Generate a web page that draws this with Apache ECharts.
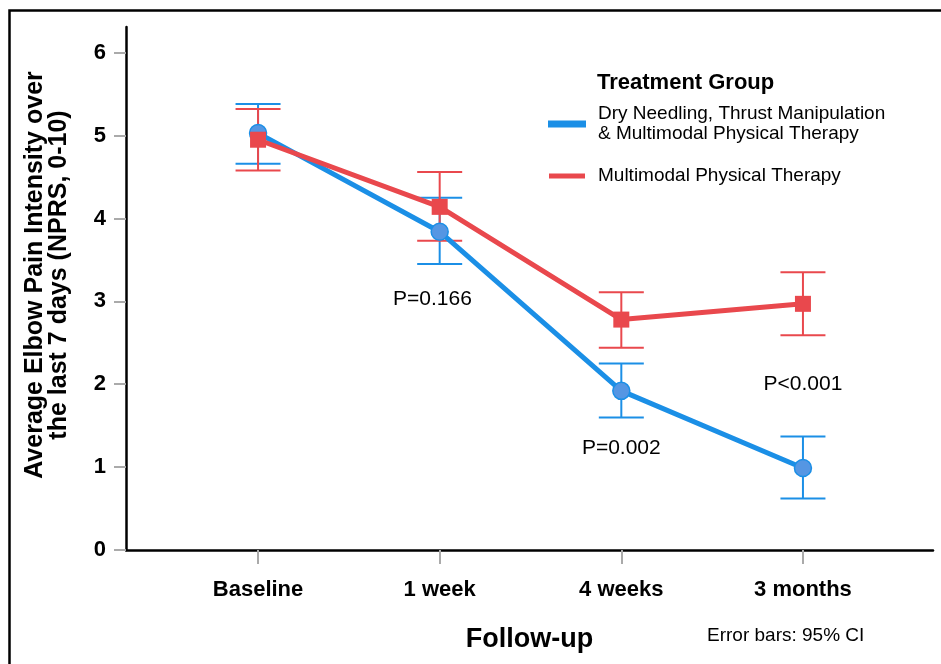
<!DOCTYPE html>
<html>
<head>
<meta charset="utf-8">
<script src="https://cdn.jsdelivr.net/npm/echarts@6/dist/echarts.min.js"></script>
<style>
html,body{margin:0;padding:0;background:#fff;}
#chart{width:941px;height:664px;}
</style>
</head>
<body>
<div id="chart"></div>
<script>
// ---- data ----
var categories = ['Baseline', '1 week', '4 weeks', '3 months'];
var yTicks = [0, 1, 2, 3, 4, 5, 6];
var seriesNames = ['Dry Needling, Thrust Manipulation\n& Multimodal Physical Therapy', 'Multimodal Physical Therapy'];
var dnMean  = [5.03, 3.84, 1.92, 0.99];
var dnLower = [4.66, 3.45, 1.60, 0.62];
var dnUpper = [5.38, 4.25, 2.25, 1.37];
var mptMean  = [4.95, 4.14, 2.78, 2.97];
var mptLower = [4.58, 3.73, 2.44, 2.59];
var mptUpper = [5.32, 4.56, 3.11, 3.35];
var pTexts = ['P=0.166', 'P=0.002', 'P<0.001'];
var pX = [0.96, 2.0, 3.0];
var pY = [3.03, 1.23, 2.00];

var BLUE = '#1b8fe6';
var BLUE_FILL = '#5596e3';
var RED = '#e9484d';
var FONT = '"Liberation Sans", Arial, Helvetica, sans-serif';

function pts(arr) { return arr.map(function (v, i) { return [i, v]; }); }
function ciData(lo, hi) { return lo.map(function (v, i) { return [i, v, hi[i]]; }); }

function errRender(color) {
  return function (params, api) {
    var x = api.value(0);
    var lo = api.coord([x, api.value(1)]);
    var hi = api.coord([x, api.value(2)]);
    var hw = 22.5;
    var st = { stroke: color, lineWidth: 2 };
    return {
      type: 'group',
      children: [
        { type: 'line', shape: { x1: lo[0], y1: lo[1], x2: hi[0], y2: hi[1] }, style: st },
        { type: 'line', shape: { x1: lo[0] - hw, y1: lo[1], x2: lo[0] + hw, y2: lo[1] }, style: st },
        { type: 'line', shape: { x1: hi[0] - hw, y1: hi[1], x2: hi[0] + hw, y2: hi[1] }, style: st }
      ]
    };
  };
}

var chart = echarts.init(document.getElementById('chart'), null, { renderer: 'canvas' });
chart.setOption({
  animation: false,
  backgroundColor: '#fff',
  textStyle: { fontFamily: FONT },
  grid: { left: 126, right: 8, top: 27, bottom: 114, containLabel: false },
  xAxis: {
    type: 'value',
    min: -0.727,
    max: 3.716,
    name: 'Follow-up',
    nameLocation: 'middle',
    nameGap: 76,
    nameTextStyle: { fontSize: 27, fontWeight: 'bold', color: '#000', fontFamily: FONT },
    axisLine: { show: true, onZero: false, lineStyle: { color: '#000', width: 2.5 } },
    axisTick: { show: true, length: 14, lineStyle: { color: '#aaa', width: 2 }, customValues: [0, 1, 2, 3] },
    axisLabel: {
      customValues: [0, 1, 2, 3],
      margin: 29,
      fontSize: 22, fontWeight: 'bold', color: '#000', fontFamily: FONT,
      formatter: function (v) { return categories[Math.round(v)]; }
    },
    splitLine: { show: false }
  },
  yAxis: {
    type: 'value',
    min: 0,
    max: 6.31,
    axisLine: { show: true, onZero: false, lineStyle: { color: '#000', width: 2.5 } },
    axisTick: { show: true, length: 12, lineStyle: { color: '#aaa', width: 2 }, customValues: yTicks },
    axisLabel: { customValues: yTicks, margin: 20, fontSize: 22, fontWeight: 'bold', color: '#000', fontFamily: FONT },
    splitLine: { show: false }
  },
  legend: {
    orient: 'vertical',
    left: 548,
    top: 104,
    padding: 0,
    itemGap: 22,
    itemWidth: 36,
    itemHeight: 5,
    icon: 'rect',
    selectedMode: false,
    textStyle: { fontSize: 19, lineHeight: 20, color: '#000', fontFamily: FONT, padding: [0, 0, 0, 8] },
    data: [
      { name: seriesNames[0], itemStyle: { color: BLUE } },
      { name: seriesNames[1], itemStyle: { color: RED } }
    ]
  },
  graphic: [
    { type: 'rect', left: 7, top: 8, z: 100, silent: true,
      shape: { width: 950, height: 680 },
      style: { fill: 'none', stroke: '#000', lineWidth: 2.5 } },
    { type: 'text', left: 597, top: 72, z: 100,
      style: { text: 'Treatment Group', font: 'bold 22px ' + FONT, fill: '#000' } },
    { type: 'text', x: 47, y: 275, rotation: Math.PI / 2, z: 100,
      style: { text: 'Average Elbow Pain Intensity over\nthe last 7 days (NPRS, 0-10)',
        font: 'bold 25px ' + FONT, lineHeight: 24, fill: '#000', align: 'center', verticalAlign: 'middle' } },
    { type: 'text', left: 707, top: 626, z: 100,
      style: { text: 'Error bars: 95% CI', font: '19px ' + FONT, fill: '#000' } }
  ],
  series: [
    { type: 'custom', name: 'ci0', renderItem: errRender(BLUE), data: ciData(dnLower, dnUpper), z: 2, silent: true },
    { type: 'custom', name: 'ci1', renderItem: errRender(RED), data: ciData(mptLower, mptUpper), z: 3, silent: true },
    {
      type: 'line', name: seriesNames[0], data: pts(dnMean), z: 4,
      lineStyle: { color: BLUE, width: 5 },
      symbol: 'circle', symbolSize: 17,
      itemStyle: { color: BLUE_FILL, borderColor: BLUE, borderWidth: 1.5 }
    },
    {
      type: 'line', name: seriesNames[1], data: pts(mptMean), z: 5,
      lineStyle: { color: RED, width: 5 },
      symbol: 'rect', symbolSize: 16,
      itemStyle: { color: RED, borderWidth: 0 }
    },
    {
      type: 'scatter', name: 'p', symbolSize: 0, z: 6, silent: true,
      itemStyle: { opacity: 1 },
      data: pX.map(function (x, i) { return [x, pY[i]]; }),
      label: {
        show: true, position: 'inside', color: '#000', opacity: 1, fontSize: 21, fontFamily: FONT,
        textBorderWidth: 0, textShadowBlur: 0,
        formatter: function (p) { return pTexts[p.dataIndex]; }
      }
    }
  ]
});
</script>
</body>
</html>
